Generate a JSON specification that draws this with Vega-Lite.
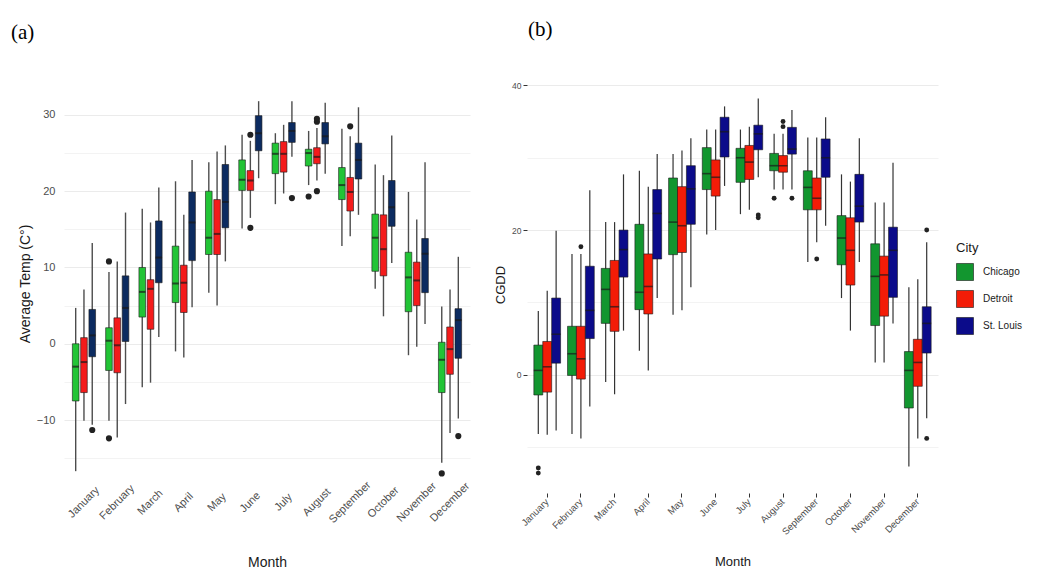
{
  "$schema": "https://vega.github.io/schema/vega-lite/v6.json",
  "background": "white",
  "padding": {"left": 11, "top": 19, "right": 5, "bottom": 1},
  "datasets": {
    "tempBox": [
      {"month": "January", "city": "Chicago", "lo": -16.7, "q1": -7.5, "med": -3.0, "q3": 0.0, "hi": 4.7},
      {"month": "January", "city": "Detroit", "lo": -10.1, "q1": -6.4, "med": -2.4, "q3": 0.8, "hi": 7.1},
      {"month": "January", "city": "St. Louis", "lo": -10.6, "q1": -1.7, "med": 1.1, "q3": 4.5, "hi": 13.2},
      {"month": "February", "city": "Chicago", "lo": -10.1, "q1": -3.5, "med": 0.4, "q3": 2.1, "hi": 9.4},
      {"month": "February", "city": "Detroit", "lo": -12.3, "q1": -3.8, "med": -0.2, "q3": 3.4, "hi": 10.8},
      {"month": "February", "city": "St. Louis", "lo": -7.9, "q1": 0.3, "med": 4.7, "q3": 8.9, "hi": 17.2},
      {"month": "March", "city": "Chicago", "lo": -5.7, "q1": 3.5, "med": 6.8, "q3": 10.0, "hi": 17.7},
      {"month": "March", "city": "Detroit", "lo": -5.1, "q1": 1.9, "med": 7.2, "q3": 8.4, "hi": 15.9},
      {"month": "March", "city": "St. Louis", "lo": 0.9, "q1": 8.0, "med": 11.3, "q3": 16.1, "hi": 20.5},
      {"month": "April", "city": "Chicago", "lo": -1.0, "q1": 5.4, "med": 7.9, "q3": 12.8, "hi": 21.3},
      {"month": "April", "city": "Detroit", "lo": -1.8, "q1": 4.1, "med": 8.0, "q3": 10.3, "hi": 16.9},
      {"month": "April", "city": "St. Louis", "lo": 4.8, "q1": 10.9, "med": 15.9, "q3": 19.9, "hi": 24.1},
      {"month": "May", "city": "Chicago", "lo": 6.7, "q1": 11.7, "med": 13.9, "q3": 20.0, "hi": 23.8},
      {"month": "May", "city": "Detroit", "lo": 5.0, "q1": 11.7, "med": 14.4, "q3": 18.9, "hi": 25.2},
      {"month": "May", "city": "St. Louis", "lo": 10.8, "q1": 15.2, "med": 18.6, "q3": 23.5, "hi": 26.0},
      {"month": "June", "city": "Chicago", "lo": 15.1, "q1": 20.1, "med": 21.5, "q3": 24.1, "hi": 27.4},
      {"month": "June", "city": "Detroit", "lo": 16.5, "q1": 20.1, "med": 21.4, "q3": 22.7, "hi": 26.6},
      {"month": "June", "city": "St. Louis", "lo": 21.7, "q1": 25.3, "med": 27.6, "q3": 29.9, "hi": 31.8},
      {"month": "July", "city": "Chicago", "lo": 18.3, "q1": 22.3, "med": 24.9, "q3": 26.3, "hi": 27.6},
      {"month": "July", "city": "Detroit", "lo": 19.7, "q1": 22.5, "med": 24.9, "q3": 26.5, "hi": 28.7},
      {"month": "July", "city": "St. Louis", "lo": 24.5, "q1": 26.4, "med": 27.9, "q3": 29.0, "hi": 31.8},
      {"month": "August", "city": "Chicago", "lo": 20.8, "q1": 23.3, "med": 25.0, "q3": 25.5, "hi": 27.9},
      {"month": "August", "city": "Detroit", "lo": 21.4, "q1": 23.6, "med": 24.5, "q3": 25.7, "hi": 28.3},
      {"month": "August", "city": "St. Louis", "lo": 22.3, "q1": 26.2, "med": 27.2, "q3": 29.0, "hi": 31.6},
      {"month": "September", "city": "Chicago", "lo": 12.8, "q1": 18.9, "med": 20.8, "q3": 23.1, "hi": 28.2},
      {"month": "September", "city": "Detroit", "lo": 14.1, "q1": 17.4, "med": 19.9, "q3": 21.8, "hi": 27.2},
      {"month": "September", "city": "St. Louis", "lo": 16.9, "q1": 21.6, "med": 24.1, "q3": 26.3, "hi": 31.0},
      {"month": "October", "city": "Chicago", "lo": 7.2, "q1": 9.5, "med": 13.9, "q3": 17.0, "hi": 23.5},
      {"month": "October", "city": "Detroit", "lo": 3.6, "q1": 8.9, "med": 12.4, "q3": 16.9, "hi": 22.1},
      {"month": "October", "city": "St. Louis", "lo": 10.6, "q1": 15.4, "med": 17.9, "q3": 21.4, "hi": 27.3},
      {"month": "November", "city": "Chicago", "lo": -1.5, "q1": 4.2, "med": 8.7, "q3": 12.0, "hi": 19.9},
      {"month": "November", "city": "Detroit", "lo": -0.4, "q1": 5.0, "med": 8.3, "q3": 10.7, "hi": 16.3},
      {"month": "November", "city": "St. Louis", "lo": 2.6, "q1": 6.7, "med": 11.8, "q3": 13.8, "hi": 23.8},
      {"month": "December", "city": "Chicago", "lo": -15.6, "q1": -6.4, "med": -2.1, "q3": 0.2, "hi": 4.9},
      {"month": "December", "city": "Detroit", "lo": -11.7, "q1": -4.0, "med": -0.7, "q3": 2.2, "hi": 7.1},
      {"month": "December", "city": "St. Louis", "lo": -9.8, "q1": -1.9, "med": 3.1, "q3": 4.6, "hi": 11.4}
    ],
    "tempOut": [
      {"month": "January", "city": "St. Louis", "v": -11.3},
      {"month": "February", "city": "Chicago", "v": 10.8},
      {"month": "February", "city": "Chicago", "v": -12.4},
      {"month": "June", "city": "Detroit", "v": 27.4},
      {"month": "June", "city": "Detroit", "v": 15.2},
      {"month": "July", "city": "St. Louis", "v": 19.1},
      {"month": "August", "city": "Chicago", "v": 19.3},
      {"month": "August", "city": "Detroit", "v": 29.5},
      {"month": "August", "city": "Detroit", "v": 29.1},
      {"month": "August", "city": "Detroit", "v": 20.0},
      {"month": "September", "city": "Detroit", "v": 28.5},
      {"month": "December", "city": "Chicago", "v": -17.0},
      {"month": "December", "city": "St. Louis", "v": -12.1}
    ],
    "cgddBox": [
      {"month": "January", "city": "Chicago", "lo": -8.2, "q1": -2.8, "med": 0.6, "q3": 4.1, "hi": 8.8},
      {"month": "January", "city": "Detroit", "lo": -8.3, "q1": -2.4, "med": 1.1, "q3": 4.6, "hi": 11.6},
      {"month": "January", "city": "St. Louis", "lo": -7.7, "q1": 1.6, "med": 5.6, "q3": 10.6, "hi": 19.9},
      {"month": "February", "city": "Chicago", "lo": -8.2, "q1": -0.1, "med": 2.9, "q3": 6.7, "hi": 16.7},
      {"month": "February", "city": "Detroit", "lo": -8.8, "q1": -0.6, "med": 2.2, "q3": 6.7, "hi": 16.7},
      {"month": "February", "city": "St. Louis", "lo": -4.4, "q1": 5.0, "med": 8.9, "q3": 15.0, "hi": 25.5},
      {"month": "March", "city": "Chicago", "lo": -1.0, "q1": 7.1, "med": 11.8, "q3": 14.7, "hi": 21.1},
      {"month": "March", "city": "Detroit", "lo": -2.7, "q1": 6.0, "med": 9.4, "q3": 15.8, "hi": 21.1},
      {"month": "March", "city": "St. Louis", "lo": 6.1, "q1": 13.5, "med": 17.3, "q3": 20.0, "hi": 27.7},
      {"month": "April", "city": "Chicago", "lo": 3.3, "q1": 9.0, "med": 11.4, "q3": 20.8, "hi": 28.2},
      {"month": "April", "city": "Detroit", "lo": 0.6, "q1": 8.4, "med": 12.2, "q3": 16.7, "hi": 26.0},
      {"month": "April", "city": "St. Louis", "lo": 10.6, "q1": 16.0, "med": 22.3, "q3": 25.6, "hi": 30.5},
      {"month": "May", "city": "Chicago", "lo": 8.3, "q1": 16.6, "med": 21.1, "q3": 27.2, "hi": 30.5},
      {"month": "May", "city": "Detroit", "lo": 8.9, "q1": 16.9, "med": 20.6, "q3": 26.0, "hi": 31.0},
      {"month": "May", "city": "St. Louis", "lo": 12.1, "q1": 20.8, "med": 25.7, "q3": 28.9, "hi": 32.7},
      {"month": "June", "city": "Chicago", "lo": 19.4, "q1": 25.6, "med": 27.8, "q3": 31.4, "hi": 33.9},
      {"month": "June", "city": "Detroit", "lo": 20.0, "q1": 24.7, "med": 27.3, "q3": 29.7, "hi": 33.9},
      {"month": "June", "city": "St. Louis", "lo": 26.1, "q1": 30.1, "med": 33.6, "q3": 35.6, "hi": 37.1},
      {"month": "July", "city": "Chicago", "lo": 22.2, "q1": 26.6, "med": 30.0, "q3": 31.3, "hi": 33.9},
      {"month": "July", "city": "Detroit", "lo": 22.8, "q1": 27.0, "med": 29.4, "q3": 31.7, "hi": 34.3},
      {"month": "July", "city": "St. Louis", "lo": 27.3, "q1": 31.1, "med": 33.3, "q3": 34.5, "hi": 38.2},
      {"month": "August", "city": "Chicago", "lo": 25.6, "q1": 28.2, "med": 28.9, "q3": 30.6, "hi": 33.3},
      {"month": "August", "city": "Detroit", "lo": 25.6, "q1": 28.0, "med": 28.9, "q3": 30.3, "hi": 33.3},
      {"month": "August", "city": "St. Louis", "lo": 25.6, "q1": 30.5, "med": 31.2, "q3": 34.2, "hi": 36.6},
      {"month": "September", "city": "Chicago", "lo": 15.6, "q1": 22.8, "med": 25.9, "q3": 28.2, "hi": 32.8},
      {"month": "September", "city": "Detroit", "lo": 18.3, "q1": 22.8, "med": 24.4, "q3": 27.2, "hi": 32.8},
      {"month": "September", "city": "St. Louis", "lo": 20.6, "q1": 27.3, "med": 30.0, "q3": 32.6, "hi": 35.6},
      {"month": "October", "city": "Chicago", "lo": 10.6, "q1": 15.2, "med": 18.9, "q3": 22.0, "hi": 27.7},
      {"month": "October", "city": "Detroit", "lo": 6.1, "q1": 12.4, "med": 17.2, "q3": 21.7, "hi": 26.7},
      {"month": "October", "city": "St. Louis", "lo": 15.6, "q1": 21.1, "med": 23.3, "q3": 27.7, "hi": 32.7},
      {"month": "November", "city": "Chicago", "lo": 1.7, "q1": 6.8, "med": 13.6, "q3": 18.1, "hi": 23.8},
      {"month": "November", "city": "Detroit", "lo": 1.7, "q1": 8.1, "med": 13.8, "q3": 16.4, "hi": 23.8},
      {"month": "November", "city": "St. Louis", "lo": 7.1, "q1": 10.7, "med": 17.2, "q3": 20.4, "hi": 29.3},
      {"month": "December", "city": "Chicago", "lo": -12.7, "q1": -4.6, "med": 0.6, "q3": 3.2, "hi": 12.1},
      {"month": "December", "city": "Detroit", "lo": -8.8, "q1": -1.6, "med": 1.7, "q3": 4.9, "hi": 13.2},
      {"month": "December", "city": "St. Louis", "lo": -6.0, "q1": 3.0, "med": 7.1, "q3": 9.4, "hi": 18.3}
    ],
    "cgddOut": [
      {"month": "January", "city": "Chicago", "v": -12.9},
      {"month": "January", "city": "Chicago", "v": -13.6},
      {"month": "February", "city": "Detroit", "v": 17.7},
      {"month": "July", "city": "St. Louis", "v": 22.1},
      {"month": "July", "city": "St. Louis", "v": 21.7},
      {"month": "August", "city": "Chicago", "v": 24.4},
      {"month": "August", "city": "Detroit", "v": 35.0},
      {"month": "August", "city": "Detroit", "v": 34.3},
      {"month": "August", "city": "St. Louis", "v": 24.4},
      {"month": "September", "city": "Detroit", "v": 16.0},
      {"month": "December", "city": "St. Louis", "v": 20.0},
      {"month": "December", "city": "St. Louis", "v": -8.8}
    ]
  },
  "spacing": 57,
  "bounds": "flush",
  "resolve": {"scale": {"color": "independent", "y": "independent", "x": "independent", "xOffset": "independent"}},
  "hconcat": [
    {
      "width": 406,
      "height": 415,
      "title": {"text": "(a)", "anchor": "start", "frame": "group", "dx": -53, "offset": 33},
      "encoding": {
        "x": {
          "field": "month", "type": "nominal", "title": "Month",
          "sort": ["January", "February", "March", "April", "May", "June", "July", "August", "September", "October", "November", "December"],
          "scale": {"paddingInner": 0, "paddingOuter": 0.1},
          "axis": {"bandPosition": 0.5, "ticks": false, "tickSize": 0, "labelAngle": -45, "labelAlign": "center", "labelBaseline": "middle", "labelPadding": 11, "labelFontSize": 11, "titleFontSize": 14, "titlePadding": 31, "domain": false}
        },
        "xOffset": {"field": "city", "type": "nominal", "scale": {"paddingInner": 0.2, "paddingOuter": 0.61}}
      },
      "layer": [
        {
          "data": {"name": "tempBox"},
          "mark": {"type": "rule", "color": "#4d4d4d", "strokeWidth": 1.4},
          "encoding": {
            "y": {
              "field": "lo", "type": "quantitative", "title": "Average Temp (C°)",
              "scale": {"domain": [-19.3, 35.1], "nice": false, "zero": false},
              "axis": {
                "values": [-15, -10, -5, 0, 5, 10, 15, 20, 25, 30],
                "labelExpr": "datum.value % 10 === 0 ? datum.label : ''",
                "ticks": false, "tickSize": 0, "domain": false, "labelPadding": 9, "labelFontSize": 11,
                "titleFontSize": 14, "titlePadding": 4,
                "gridWidth": {"condition": {"test": "datum.value % 10 !== 0", "value": 0.6}, "value": 1.1}
              }
            },
            "y2": {"field": "hi"}
          }
        },
        {
          "data": {"name": "tempBox"},
          "mark": {"type": "bar", "stroke": "#1a1a1a", "strokeWidth": 0.6},
          "encoding": {
            "y": {"field": "q1", "type": "quantitative", "title": "Average Temp (C°)"},
            "y2": {"field": "q3"},
            "color": {
              "field": "city", "type": "nominal", "legend": null,
              "scale": {"domain": ["Chicago", "Detroit", "St. Louis"], "range": ["#22c436", "#f41b1b", "#0c2b60"]}
            }
          }
        },
        {
          "data": {"name": "tempBox"},
          "mark": {"type": "tick", "orient": "horizontal", "size": 6.5, "thickness": 2, "color": "#1a1a1a"},
          "encoding": {
            "y": {"field": "med", "type": "quantitative", "title": "Average Temp (C°)"}
          }
        },
        {
          "data": {"name": "tempOut"},
          "mark": {"type": "circle", "size": 38, "color": "#222222", "opacity": 1},
          "encoding": {
            "y": {"field": "v", "type": "quantitative", "title": "Average Temp (C°)"}
          }
        }
      ]
    },
    {
      "width": 411,
      "height": 417,
      "title": {"text": "(b)", "anchor": "start", "frame": "group", "dx": 1, "offset": 36},
      "encoding": {
        "x": {
          "field": "month", "type": "nominal", "title": "Month",
          "sort": ["January", "February", "March", "April", "May", "June", "July", "August", "September", "October", "November", "December"],
          "scale": {"paddingInner": 0, "paddingOuter": 0.1},
          "axis": {"bandPosition": 0.5, "ticks": true, "tickSize": 4, "tickColor": "#333333", "labelAngle": -45, "labelAlign": "right", "labelBaseline": "middle", "labelPadding": 3, "labelFontSize": 9.5, "titleFontSize": 13, "titlePadding": 19, "domain": false}
        },
        "xOffset": {"field": "city", "type": "nominal", "scale": {"paddingInner": 0, "paddingOuter": 0.39}}
      },
      "layer": [
        {
          "data": {"name": "cgddBox"},
          "mark": {"type": "rule", "color": "#333333", "strokeWidth": 1.2},
          "encoding": {
            "y": {
              "field": "lo", "type": "quantitative", "title": "CGDD",
              "scale": {"domain": [-16.35, 41.3], "nice": false, "zero": false},
              "axis": {
                "values": [-10, 0, 10, 20, 30, 40],
                "labelExpr": "datum.value % 20 === 0 ? datum.label : ''",
                "tickSize": 4,
                "tickColor": {"condition": {"test": "datum.value % 20 !== 0", "value": "transparent"}, "value": "#333333"},
                "domain": false, "labelPadding": 2, "labelFontSize": 8.5,
                "titleFontSize": 13, "titlePadding": 4,
                "gridWidth": {"condition": {"test": "datum.value % 20 !== 0", "value": 0.6}, "value": 1.1}
              }
            },
            "y2": {"field": "hi"}
          }
        },
        {
          "data": {"name": "cgddBox"},
          "mark": {"type": "bar", "stroke": "#1a1a1a", "strokeWidth": 0.6},
          "encoding": {
            "y": {"field": "q1", "type": "quantitative", "title": "CGDD"},
            "y2": {"field": "q3"},
            "color": {
              "field": "city", "type": "nominal", "title": "City",
              "scale": {"domain": ["Chicago", "Detroit", "St. Louis"], "range": ["#12962f", "#f31c07", "#0b0b8a"]},
              "legend": {"orient": "none", "legendX": 429, "legendY": 166, "symbolType": "square", "symbolSize": 290, "symbolStrokeColor": "#1a1a1a", "symbolStrokeWidth": 0.6, "symbolOpacity": 1, "titleFontSize": 13, "titleFontWeight": "normal", "titlePadding": 8, "labelFontSize": 10, "rowPadding": 7, "labelOffset": 9}
            }
          }
        },
        {
          "data": {"name": "cgddBox"},
          "mark": {"type": "tick", "orient": "horizontal", "size": 9, "thickness": 1.6, "color": "#1a1a1a"},
          "encoding": {
            "y": {"field": "med", "type": "quantitative", "title": "CGDD"}
          }
        },
        {
          "data": {"name": "cgddOut"},
          "mark": {"type": "circle", "size": 24, "color": "#222222", "opacity": 1},
          "encoding": {
            "y": {"field": "v", "type": "quantitative", "title": "CGDD"}
          }
        }
      ]
    }
  ],
  "config": {
    "font": "Liberation Sans",
    "view": {"stroke": null},
    "axis": {
      "gridColor": "#ebebeb",
      "labelColor": "#4d4d4d",
      "titleColor": "#1a1a1a",
      "titleFontWeight": "normal",
      "labelFont": "Liberation Sans",
      "titleFont": "Liberation Sans"
    },
    "legend": {"labelFont": "Liberation Sans", "titleFont": "Liberation Sans", "labelColor": "#1a1a1a", "titleColor": "#1a1a1a"},
    "title": {"font": "Liberation Serif", "fontSize": 21, "fontWeight": "normal", "color": "#000000"}
  }
}
